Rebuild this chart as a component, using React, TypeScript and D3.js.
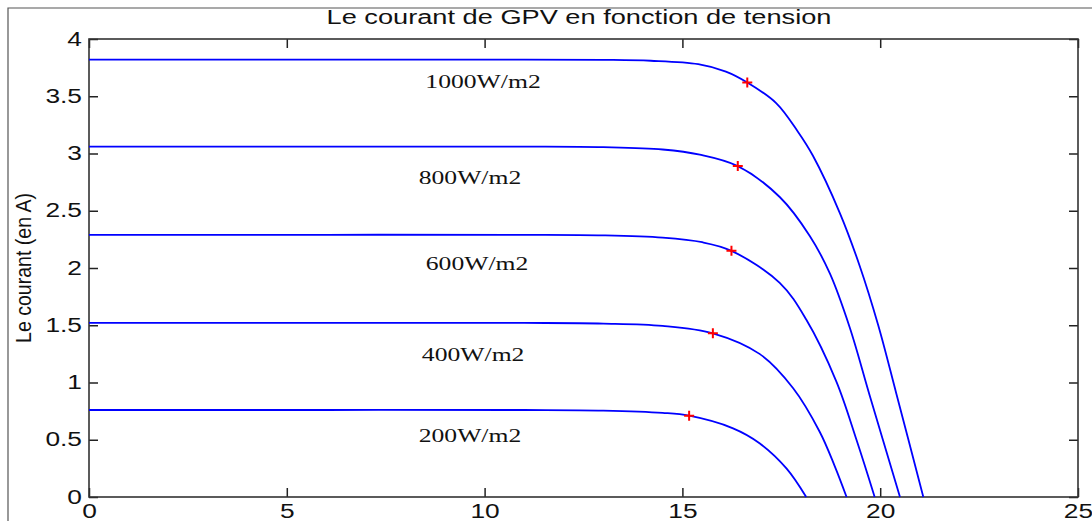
import React, { useEffect, useRef } from 'react';
import * as d3 from 'd3';

// irradiance levels, one curve each
const levels = ['1000W/m2', '800W/m2', '600W/m2', '400W/m2', '200W/m2'];

// I(V) curves: [tension V, courant A]
const curve1000 = [[0, 3.82], [6, 3.82], [11, 3.82], [13, 3.818], [14.2, 3.81], [15.4, 3.78], [16.1, 3.715], [16.64, 3.62], [17.37, 3.44], [17.92, 3.19], [18.3, 2.98], [18.98, 2.48], [19.48, 2.02], [19.95, 1.5], [20.41, 0.9], [21.09, 0]];
const curve800 = [[0, 3.06], [6, 3.06], [11, 3.06], [13, 3.055], [14.5, 3.035], [15.44, 2.99], [16.4, 2.89], [17.46, 2.62], [18.22, 2.28], [18.73, 1.95], [19.23, 1.48], [19.74, 0.88], [20.5, 0]];
const curve600 = [[0, 2.29], [6, 2.29], [11, 2.29], [13, 2.285], [14.5, 2.265], [15.5, 2.225], [16.24, 2.15], [17.46, 1.87], [18.13, 1.55], [18.89, 1.01], [19.4, 0.5], [19.86, 0]];
const curve400 = [[0, 1.52], [6, 1.52], [11, 1.52], [13, 1.515], [14.5, 1.495], [15.77, 1.43], [16.95, 1.25], [17.8, 0.95], [18.47, 0.57], [18.85, 0.27], [19.15, 0]];
const curve200 = [[0, 0.76], [6, 0.76], [11, 0.76], [13, 0.755], [14.5, 0.735], [15.17, 0.71], [16.28, 0.6], [16.95, 0.47], [17.63, 0.25], [18.13, 0]];
const curves = [curve1000, curve800, curve600, curve400, curve200];

// maximum power points (red +)
const mppV = [16.64, 16.4, 16.24, 15.77, 15.17];
const mppI = [3.62, 2.89, 2.15, 1.43, 0.71];

// where the level labels sit, in data units
const labelV = [9.96, 9.63, 9.81, 9.71, 9.63];
const labelI = [3.57, 2.73, 1.98, 1.19, 0.48];

const xTicks = [0, 5, 10, 15, 20, 25];
const yTicks = [0, 0.5, 1, 1.5, 2, 2.5, 3, 3.5, 4];

const title = 'Le courant de GPV en fonction de tension';
const yTitle = 'Le courant (en A)';

export default function App() {
  const ref = useRef<SVGSVGElement>(null);

  useEffect(() => {
    const width = 1092;
    const height = 521;
    const left = 89, right = 1078, top = 39, bottom = 497;
    const stretch = 1.35;
    const sans = '"Liberation Sans", Arial, sans-serif';

    const svg = d3.select(ref.current);
    svg.selectAll('*').remove();

    const x = d3.scaleLinear().domain([0, 25]).range([left, right]);
    const y = d3.scaleLinear().domain([0, 4]).range([bottom, top]);

    // outer window frame
    svg.append('path')
      .attr('d', `M8,${height} L8,8 L${width},8`)
      .attr('fill', 'none')
      .attr('stroke', '#555')
      .attr('stroke-width', 1.2);

    // title
    svg.append('text')
      .attr('x', 579)
      .attr('y', 24)
      .attr('text-anchor', 'middle')
      .attr('textLength', 505)
      .attr('lengthAdjust', 'spacingAndGlyphs')
      .style('font-family', sans)
      .style('font-size', '20px')
      .style('fill', '#111')
      .text(title);

    // y title, a bit wider glyphs like the reference
    svg.append('text')
      .attr('transform', `translate(31,${(top + bottom) / 2}) rotate(-90) scale(1,1.2)`)
      .attr('text-anchor', 'middle')
      .attr('textLength', 150)
      .attr('lengthAdjust', 'spacingAndGlyphs')
      .style('font-family', sans)
      .style('font-size', '19px')
      .style('fill', '#111')
      .text(yTitle);

    // axes, ticks pointing inward on all four sides
    const xAxis = svg.append('g')
      .attr('transform', `translate(0,${bottom})`)
      .call(d3.axisBottom(x).tickValues(xTicks).tickSizeInner(-9).tickSizeOuter(0).tickPadding(7));
    const yAxis = svg.append('g')
      .attr('transform', `translate(${left},0)`)
      .call(d3.axisLeft(y).tickValues(yTicks).tickSizeInner(-9).tickSizeOuter(0).tickPadding(7).tickFormat(d3.format('')));
    const xTop = svg.append('g')
      .attr('transform', `translate(0,${top})`)
      .call(d3.axisTop(x).tickValues(xTicks).tickSizeInner(-9).tickSizeOuter(0).tickFormat(() => ''));
    const yRight = svg.append('g')
      .attr('transform', `translate(${right},0)`)
      .call(d3.axisRight(y).tickValues(yTicks).tickSizeInner(-9).tickSizeOuter(0).tickFormat(() => ''));

    [xAxis, yAxis, xTop, yRight].forEach(g => {
      g.select('.domain').remove();
      g.selectAll('line').attr('stroke', '#222').attr('stroke-width', 1.5);
      g.selectAll('text')
        .style('font-family', sans)
        .style('font-size', '19.5px')
        .style('fill', '#111');
    });
    xAxis.selectAll('text').attr('transform', `scale(${stretch},1)`);
    yAxis.selectAll('text')
      .attr('x', -7 / stretch)
      .attr('transform', `scale(${stretch},1)`);

    // plot box
    svg.append('rect')
      .attr('x', left)
      .attr('y', top)
      .attr('width', right - left)
      .attr('height', bottom - top)
      .attr('fill', 'none')
      .attr('stroke', '#333')
      .attr('stroke-width', 1.6);

    const line = d3.line<number[]>()
      .x(d => x(d[0]))
      .y(d => y(d[1]))
      .curve(d3.curveCatmullRom.alpha(0.5));

    svg.selectAll('.iv')
      .data(curves)
      .enter()
      .append('path')
      .attr('class', 'iv')
      .attr('d', d => line(d))
      .attr('fill', 'none')
      .attr('stroke', '#0000ff')
      .attr('stroke-width', 1.8);

    // red + markers
    const mpp = svg.selectAll('.mpp')
      .data(mppV)
      .enter()
      .append('g')
      .attr('class', 'mpp')
      .attr('transform', (d, i) => `translate(${x(d)},${y(mppI[i])})`);
    mpp.append('path')
      .attr('d', 'M-5,0 L5,0 M0,-5 L0,5')
      .attr('stroke', '#ff0000')
      .attr('stroke-width', 2);

    // level labels
    svg.selectAll('.lvl')
      .data(levels)
      .enter()
      .append('text')
      .attr('class', 'lvl')
      .attr('transform', (d, i) => `translate(${x(labelV[i])},${y(labelI[i])}) scale(${stretch},1)`)
      .attr('text-anchor', 'middle')
      .style('font-family', '"Liberation Serif", "Times New Roman", serif')
      .style('font-size', '19px')
      .style('fill', '#111')
      .text(d => d);
  }, []);

  return (
    <div style={{ position: 'absolute', left: 0, top: 0 }}>
      <svg ref={ref} width={1092} height={521} style={{ display: 'block', background: '#fff' }} />
    </div>
  );
}
